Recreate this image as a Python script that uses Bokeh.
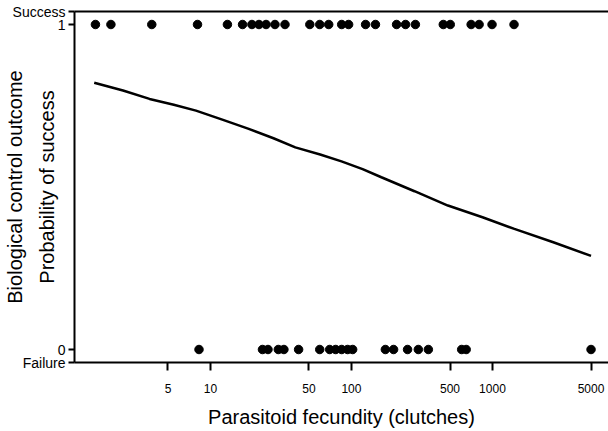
from bokeh.plotting import figure
from bokeh.models import (Range1d, FixedTicker, LinearAxis, LogAxis,
                          NumeralTickFormatter)
from bokeh.embed import file_html
from bokeh.resources import INLINE

# ---- data ----
success_fecundity = [1.53, 1.97, 3.84, 8.1, 13.2, 16.9, 19.7, 22.1, 24.8, 28.7, 33.8,
                     50.7, 59.6, 69.0, 85.3, 95.5, 126, 148, 209, 242, 284,
                     448, 502, 706, 804, 993, 1422]
success_outcome = [1] * len(success_fecundity)

failure_fecundity = [8.3, 23.4, 25.6, 30.3, 33.2, 42.2, 59.6, 70.1, 77.3, 85.3, 94.0,
                     102, 174, 199, 250, 298, 351, 605, 651, 5000]
failure_outcome = [0] * len(failure_fecundity)

curve_fecundity = [1.5, 2.4, 3.7, 5.5, 7.9, 12.0, 18.7, 28.0, 40, 60, 85, 120, 163,
                   280, 483, 850, 1430, 2700, 5000]
curve_probability = [0.821, 0.797, 0.771, 0.753, 0.735, 0.708, 0.679, 0.650, 0.622,
                     0.600, 0.579, 0.555, 0.530, 0.487, 0.443, 0.407, 0.371, 0.330, 0.288]

x_ticks = [5, 10, 50, 100, 500, 1000, 5000]
y_ticks = [0, 1]
y_tick_labels = ["0", "1"]
x_title = "Parasitoid fecundity (clutches)"
y_title_inner = "Probability of success"
y_title_outer = "Biological control outcome"
top_text = "Success"
bottom_text = "Failure"

FONT = "Liberation Sans"

x_start, x_end = 1.087, 6650
y_start, y_end = -0.04, 1.04

p = figure(width=608, height=431, x_axis_type="log",
           x_range=Range1d(x_start, x_end), y_range=Range1d(y_start, y_end),
           output_backend="svg", toolbar_location=None,
           min_border_left=72, min_border_right=0, min_border_top=11,
           min_border_bottom=69)
p.outline_line_color = None
p.xgrid.visible = False
p.ygrid.visible = False
p.background_fill_color = "white"
p.border_fill_color = "white"

# bottom axis
xa = p.xaxis[0]
xa.ticker = FixedTicker(ticks=x_ticks)
xa.formatter = NumeralTickFormatter(format="0")
xa.axis_line_width = 2
xa.major_tick_line_width = 2
xa.major_tick_out = 8
xa.major_tick_in = 0
xa.minor_tick_line_color = None
xa.major_label_standoff = 13
xa.major_label_text_font = FONT
xa.major_label_text_font_size = "12px"
xa.major_label_text_color = "black"
xa.axis_label = x_title
xa.axis_label_text_font = FONT
xa.axis_label_text_font_size = "20px"
xa.axis_label_text_font_style = "normal"
xa.axis_label_text_color = "black"
xa.axis_label_standoff = 10

# left axis: 0 / 1 ticks plus the Success / Failure words at the frame ends
overrides = {}
for v, t in zip(y_ticks, y_tick_labels):
    overrides[v] = t
overrides[y_start] = bottom_text
overrides[y_end] = top_text
for k in list(overrides):
    overrides[str(k)] = overrides[k]

ya = p.yaxis[0]
ya.ticker = FixedTicker(ticks=[y_start] + y_ticks + [y_end])
ya.formatter = NumeralTickFormatter(format="0")
ya.major_label_overrides = overrides
ya.axis_line_width = 2
ya.major_tick_line_width = 2
ya.major_tick_out = 6
ya.major_tick_in = 0
ya.minor_tick_line_color = None
ya.major_label_standoff = 3
ya.major_label_text_font = FONT
ya.major_label_text_font_size = "14px"
ya.major_label_text_color = "black"
ya.axis_label = y_title_inner
ya.axis_label_text_font = FONT
ya.axis_label_text_font_size = "20px"
ya.axis_label_text_font_style = "normal"
ya.axis_label_text_color = "black"
ya.axis_label_standoff = -48

outer = LinearAxis(ticker=FixedTicker(ticks=[]), axis_line_color=None,
                   major_tick_line_color=None, minor_tick_line_color=None,
                   major_label_text_font_size="0px", major_label_standoff=0,
                   axis_label=y_title_outer, axis_label_text_font=FONT,
                   axis_label_text_font_size="20px",
                   axis_label_text_font_style="normal",
                   axis_label_text_color="black", axis_label_standoff=7)
p.add_layout(outer, "left")

top = LogAxis(ticker=FixedTicker(ticks=[]), axis_line_width=2,
              major_tick_line_color=None, minor_tick_line_color=None,
              major_label_text_font_size="0px", major_label_standoff=0)
p.add_layout(top, "above")

# data
p.line(curve_fecundity, curve_probability, line_color="black", line_width=2.5)
p.scatter(success_fecundity, success_outcome, size=8.5, color="black")
p.scatter(failure_fecundity, failure_outcome, size=8.5, color="black")

open("out.html", "w").write(file_html(p, INLINE))
